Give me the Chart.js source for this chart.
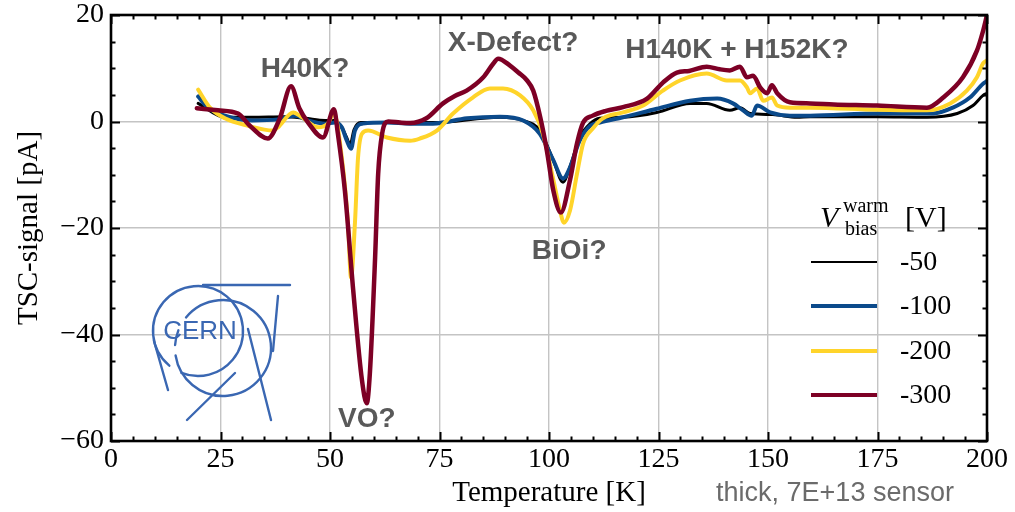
<!DOCTYPE html>
<html><head><meta charset="utf-8">
<script src="https://cdn.jsdelivr.net/npm/chart.js@4.4.1/dist/chart.umd.min.js"></script>
<style>html,body{margin:0;padding:0;background:#fff;}#wrap{width:1015px;height:512px;}</style>
</head><body><div id="wrap"><canvas id="c" width="1015" height="512"></canvas></div>
<script>
// ---- data ----
const seriesLabels = ['-50', '-100', '-200', '-300'];
const seriesColors = ['#000000', '#0b4a8b', '#ffd42a', '#7d0025'];

const t50 = [19.9, 26, 32.2, 39.7, 44.3, 48.9, 51.1, 52.7, 53.8, 54.6, 55.5, 57, 63, 73.5, 88.8, 94, 97.9, 101, 103.2, 104.8, 107, 109.4, 111.6, 116.9, 124.6, 132.2, 136, 141.3, 143.6, 145.9, 151.1, 156.6, 159.6, 174.9, 186.3, 193.2, 196.8, 199.1, 200];
const v50 = [3.4, 0.8, 0.8, 0.9, 0.6, 0.2, 0.2, -1.1, -3.0, -4.3, -1.5, -0.2, -0.2, -0.2, 0.8, 0.2, -1.7, -7.3, -11.4, -8.5, -3.0, -0.4, 0.6, 0.8, 1.7, 3.4, 3.4, 2.1, 2.6, 1.5, 1.3, 0.8, 0.9, 0.9, 0.8, 1.5, 3.0, 4.9, 5.3];

const t100 = [19.9, 22.1, 26, 32.2, 38.1, 42, 45, 48.9, 51.1, 52.7, 53.8, 54.8, 55.7, 57.5, 63, 68.3, 73.5, 81.3, 88.8, 94.1, 97.9, 101, 103.2, 104.8, 107, 109.4, 111.6, 116.9, 124.6, 132.2, 138.4, 142, 144.3, 146.3, 147.5, 150.5, 155, 159.6, 175, 187.7, 192.2, 196.1, 199.1, 200];
const v100 = [4.7, 2.6, 1.1, 0.2, 0.4, 1.1, 0.2, -0.4, -0.2, -1.1, -3.5, -5.1, -1.7, -0.4, -0.2, -0.4, -0.4, 0.6, 0.9, 0.2, -2.3, -7.3, -10.7, -8.6, -3.6, -0.8, -0.2, 0.8, 2.4, 3.9, 4.3, 3.4, 2.1, 1.1, 3.0, 1.7, 1.1, 1.1, 1.5, 1.5, 2.6, 4.5, 7.1, 7.6];

const t200 = [19.9, 22.6, 26, 31.3, 37, 38.1, 41.6, 43.6, 47.3, 49.5, 50.9, 52.7, 54.1, 54.8, 55.7, 56.4, 57.3, 58.7, 63, 68.3, 70.5, 74.4, 78.1, 82.6, 86.5, 89.5, 93.4, 96.4, 98.6, 101, 102.5, 103.4, 104.8, 106.4, 107.8, 110, 112.3, 116.9, 121.5, 126, 129.9, 136, 140.6, 143.6, 145.2, 145.9, 147.5, 148.9, 150.9, 152.1, 155, 159.6, 175, 186.3, 191.6, 195.4, 197.7, 199.1, 200];
const v200 = [6.0, 2.6, 0.6, -0.8, -1.7, -1.1, 1.7, 0.8, -1.1, -0.4, 1.5, -6.8, -19.1, -29.3, -19, -6.8, -2.3, -1.7, -3.0, -3.6, -3.2, -1.7, 1.5, 4.5, 6.2, 6.2, 4.9, 2.1, -2.3, -11, -16.7, -19, -16.7, -9.8, -4.1, -1.3, 0.6, 1.7, 3.0, 5.8, 7.7, 9.0, 7.7, 7.7, 6.4, 5.3, 6.2, 3.9, 4.5, 3.0, 2.6, 2.6, 2.2, 2.1, 3.4, 5.8, 8.3, 10.9, 11.5];

const t300 = [19.6, 24.4, 29, 31.7, 35.8, 38.5, 41.1, 43, 45, 48.4, 50.9, 51.8, 53.4, 55.3, 57.3, 58.4, 59.1, 60.3, 61, 61.9, 63.3, 66, 68.3, 72, 75.8, 78.5, 81.2, 85, 87.3, 88.4, 91.1, 93, 95, 96.4, 98, 99.5, 101, 102.7, 104.8, 106.4, 107.8, 110, 113, 116.9, 122.4, 126, 129.2, 132, 136, 139, 141.3, 143.6, 145.2, 146.6, 148.2, 149.8, 150.9, 152.1, 155, 159.6, 165, 175, 186.3, 190, 194.5, 197.7, 199.1, 200];
const v300 = [2.5, 2.1, 1.5, -0.8, -3.2, 0.5, 6.6, 2.5, -0.2, -3.0, 2.3, -2.3, -13, -31.7, -48.6, -52.9, -47.3, -25.5, -9.8, -2.3, 0, -0.2, -0.3, 0.6, 3.4, 4.8, 5.8, 8.3, 10.9, 11.8, 10.5, 9.2, 7.7, 5.8, 0.8, -5.4, -13, -17.1, -11, -4.1, -0.2, 1.1, 2.0, 2.7, 4.3, 7.3, 9.2, 9.5, 10.3, 9.8, 9.6, 10.3, 8.3, 8.6, 6.4, 5.3, 6.8, 5.3, 3.6, 3.4, 3.2, 3.0, 2.6, 4.5, 8.3, 13.3, 17, 20];

const xTickStep = 25;
const yTickStep = 20;
const annotationTexts = ['H40K?', 'X-Defect?', 'H140K + H152K?', 'BiOi?', 'VO?'];
const annotationAt = [[44.3, 9.9], [91.8, 14.6], [142.9, 13.3], [104.6, -24.4], [58.4, -55.9]];

// ---- chart ----
const ts = [t50, t100, t200, t300];
const vs = [v50, v100, v200, v300];
const widths = [3, 4, 4, 4.5];
const legendWidths = [2.2, 4, 4, 4];

const datasets = seriesLabels.map((lab, i) => ({
  label: lab,
  data: ts[i].map((t, j) => ({x: t, y: vs[i][j]})),
  borderColor: seriesColors[i],
  backgroundColor: seriesColors[i],
  borderWidth: widths[i],
  pointRadius: 0,
  cubicInterpolationMode: 'monotone',
  borderJoinStyle: 'round',
  borderCapStyle: 'round',
  order: 4 - i
}));

const serif = '"Liberation Serif", "DejaVu Serif", serif';
const sans = '"Liberation Sans", Arial, sans-serif';

function fmtMinus(v) { return v < 0 ? '\u2212' + Math.abs(v) : String(v); }

const framePlugin = {
  id: 'frame',
  afterDatasetsDraw(chart) {
    const ctx = chart.ctx, a = chart.chartArea;
    const xs = chart.scales.x, ys = chart.scales.y;
    ctx.save();
    ctx.strokeStyle = '#000';
    ctx.lineWidth = 2;
    ctx.beginPath();
    for (let v = xs.min; v <= xs.max + 1e-9; v += 5) {
      const p = Math.round(xs.getPixelForValue(v)) + 0.5;
      const L = (v % xTickStep === 0) ? 9 : 4.5;
      ctx.moveTo(p, a.bottom); ctx.lineTo(p, a.bottom - L);
      ctx.moveTo(p, a.top); ctx.lineTo(p, a.top + L);
    }
    for (let v = ys.min; v <= ys.max + 1e-9; v += 5) {
      const p = Math.round(ys.getPixelForValue(v)) + 0.5;
      const L = (v % yTickStep === 0) ? 9 : 4.5;
      ctx.moveTo(a.left, p); ctx.lineTo(a.left + L, p);
      ctx.moveTo(a.right, p); ctx.lineTo(a.right - L, p);
    }
    ctx.stroke();
    ctx.lineWidth = 2.6;
    ctx.strokeRect(a.left, a.top, a.right - a.left, a.bottom - a.top);
    ctx.restore();
  },
  afterDraw(chart) {
    const ctx = chart.ctx, a = chart.chartArea;
    const xs = chart.scales.x, ys = chart.scales.y;
    ctx.save();
    // annotations
    ctx.fillStyle = '#595959';
    ctx.font = 'bold 28px ' + sans;
    ctx.textAlign = 'center';
    ctx.textBaseline = 'middle';
    annotationTexts.forEach((t, i) => {
      ctx.fillText(t, xs.getPixelForValue(annotationAt[i][0]), ys.getPixelForValue(annotationAt[i][1]));
    });
    // footnote
    ctx.fillStyle = '#6b6b6b';
    ctx.font = '27px ' + sans;
    ctx.fillText('thick, 7E+13 sensor', a.right - 152, 494);
    // legend
    const lx0 = a.right - 176, lx1 = a.right - 110;
    const rowY = [a.bottom - 179, a.bottom - 135, a.bottom - 90, a.bottom - 46];
    chart.data.datasets.forEach((ds, i) => {
      ctx.strokeStyle = ds.borderColor;
      ctx.lineWidth = legendWidths[i];
      ctx.beginPath(); ctx.moveTo(lx0, rowY[i]); ctx.lineTo(lx1, rowY[i]); ctx.stroke();
      ctx.fillStyle = '#000';
      ctx.font = '28px ' + serif;
      ctx.textAlign = 'left';
      ctx.textBaseline = 'middle';
      ctx.fillText(ds.label, lx1 + 23, rowY[i] + 1);
    });
    // legend title V_bias^warm [V]
    const tb = a.bottom - 214;
    ctx.fillStyle = '#000';
    ctx.textBaseline = 'alphabetic';
    ctx.textAlign = 'left';
    ctx.font = 'italic 30px ' + serif;
    ctx.fillText('V', lx0 + 9, tb);
    ctx.font = '20px ' + serif;
    ctx.fillText('warm', lx0 + 32, tb - 15);
    ctx.fillText('bias', lx0 + 34, tb + 8);
    ctx.font = '30px ' + serif;
    ctx.fillText('[V]', lx0 + 94, tb);
    ctx.restore();
  },
  beforeDatasetsDraw(chart) {
    // CERN logo (decoration) placed relative to the chart area
    const ctx = chart.ctx, a = chart.chartArea;
    const L = a.left, B = a.bottom;
    ctx.save();
    ctx.strokeStyle = '#3a67b2';
    ctx.fillStyle = '#3a67b2';
    ctx.lineWidth = 2.4;
    ctx.lineCap = 'round';
    ctx.beginPath(); ctx.arc(L + 87, B - 110, 45, Math.PI * 0.72, Math.PI * 2.62); ctx.stroke();
    ctx.beginPath(); ctx.arc(L + 112, B - 93, 48, Math.PI * 1.22, Math.PI * 2.95); ctx.stroke();
    ctx.beginPath(); ctx.arc(L + 112, B - 93, 48, Math.PI * 1.02, Math.PI * 1.12); ctx.stroke();
    ctx.beginPath();
    ctx.moveTo(L + 92, B - 156); ctx.lineTo(L + 179, B - 156);
    ctx.moveTo(L + 167, B - 145); ctx.lineTo(L + 162, B - 90);
    ctx.moveTo(L + 137, B - 112); ctx.lineTo(L + 160, B - 21);
    ctx.moveTo(L + 76, B - 21); ctx.lineTo(L + 124, B - 68);
    ctx.moveTo(L + 43, B - 100); ctx.lineTo(L + 57, B - 51);
    ctx.stroke();
    ctx.font = '26px ' + sans;
    ctx.textAlign = 'center';
    ctx.textBaseline = 'middle';
    ctx.fillText('CERN', L + 89, B - 109);
    ctx.restore();
  }
};

new Chart(document.getElementById('c'), {
  type: 'line',
  data: {datasets},
  options: {
    responsive: false,
    animation: false,
    devicePixelRatio: 1,
    layout: {padding: {top: 15, right: 28, left: 0, bottom: 0}},
    plugins: {legend: {display: false}, tooltip: {enabled: false}},
    scales: {
      x: {
        type: 'linear', min: 0, max: 200,
        afterFit(s) { s.height = 71; s.paddingLeft = 0; s.paddingRight = 0; },
        ticks: {stepSize: xTickStep, color: '#000', font: {family: serif, size: 28}, padding: 2, maxRotation: 0},
        grid: {color: '#c4c4c4', lineWidth: 1.4, drawTicks: false},
        border: {display: false},
        title: {display: true, text: 'Temperature [K]', color: '#000', font: {family: serif, size: 29}, padding: {top: 0, bottom: 1}}
      },
      y: {
        type: 'linear', min: -60, max: 20,
        afterFit(s) { s.width = 111; s.paddingTop = 0; s.paddingBottom = 0; },
        ticks: {stepSize: yTickStep, color: '#000', font: {family: serif, size: 28}, padding: 7, callback: fmtMinus},
        grid: {color: '#c4c4c4', lineWidth: 1.4, drawTicks: false},
        border: {display: false},
        title: {display: true, text: 'TSC-signal [pA]', color: '#000', font: {family: serif, size: 29}, padding: {top: 12, bottom: 0}}
      }
    }
  },
  plugins: [framePlugin]
});
</script></body></html>
